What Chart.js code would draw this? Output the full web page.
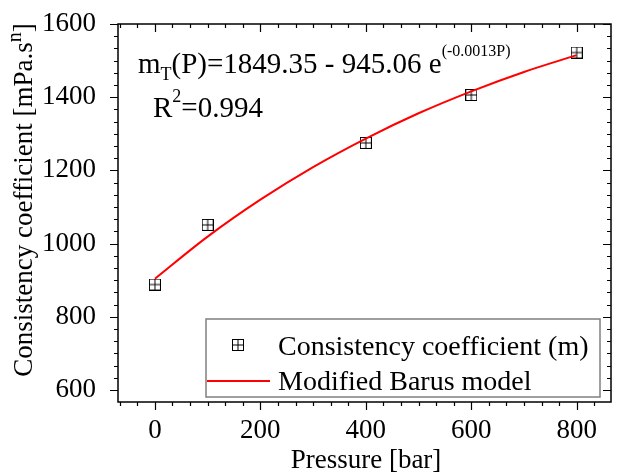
<!DOCTYPE html>
<html>
<head>
<meta charset="utf-8">
<script src="https://cdn.jsdelivr.net/npm/chart.js@4.4.1/dist/chart.umd.min.js"></script>
<style>
  body { margin: 0; background: #fff; }
  canvas { display: block; }
</style>
</head>
<body>
<canvas id="chart" width="618" height="473"></canvas>
<script>
// measured points
const pressure = [0, 100, 400, 600, 800];
const consistency = [888, 1051, 1275, 1406, 1522];

// fitted curve
const fitPressure = [0, 100, 200, 300, 400, 500, 600, 700, 800];
const fitValues = [904, 1019, 1120, 1209, 1287, 1356, 1416, 1469, 1515];

const xTicks = [0, 200, 400, 600, 800];
const yTicks = [600, 800, 1000, 1200, 1400, 1600];

const FONT = "'Liberation Serif', 'Times New Roman', serif";

// square with a cross, the Origin marker
function makeMarker() {
    const c = document.createElement('canvas');
    c.width = 12; c.height = 12;
    const g = c.getContext('2d');
    g.strokeStyle = '#000';
    g.lineWidth = 1;
    g.strokeRect(0.5, 0.5, 11, 11);
    g.beginPath();
    g.moveTo(6, 0.5); g.lineTo(6, 11.5);
    g.moveTo(0.5, 6); g.lineTo(11.5, 6);
    g.stroke();
    return c;
}
const marker = makeMarker();

const decorPlugin = {
    id: 'decor',
    afterDraw(chart) {
        const ctx = chart.ctx;
        const a = chart.chartArea;
        const xs = chart.scales.x, ys = chart.scales.y;
        ctx.save();

        // frame
        ctx.strokeStyle = '#000';
        ctx.lineWidth = 1.5;
        ctx.strokeRect(a.left, a.top, a.right - a.left, a.bottom - a.top);

        // ticks, 5 minor between majors
        ctx.lineWidth = 1.2;
        ctx.beginPath();
        for (let v = -200; v <= 1000; v += 200 / 6) {
            const px = Math.round(xs.getPixelForValue(v)) + 0.5;
            if (px < a.left + 1 || px > a.right - 1) continue;
            const major = Math.abs(v / 200 - Math.round(v / 200)) < 0.01;
            const len = major ? 8 : 4;
            ctx.moveTo(px, a.bottom); ctx.lineTo(px, a.bottom + len);
            ctx.moveTo(px, a.top); ctx.lineTo(px, a.top + len);
        }
        for (let v = 400; v <= 1800; v += 200 / 6) {
            const py = Math.round(ys.getPixelForValue(v)) + 0.5;
            if (py < a.top - 1 || py > a.bottom - 1) continue;
            const major = Math.abs(v / 200 - Math.round(v / 200)) < 0.01;
            const len = major ? 8 : 4;
            ctx.moveTo(a.left, py); ctx.lineTo(a.left - len, py);
            ctx.moveTo(a.right, py); ctx.lineTo(a.right - len, py);
        }
        ctx.stroke();

        ctx.fillStyle = '#000';
        ctx.textBaseline = 'alphabetic';

        // x title
        ctx.font = '27px ' + FONT;
        ctx.textAlign = 'center';
        ctx.fillText('Pressure [bar]', 366, 468);

        // y title with superscript n
        ctx.save();
        ctx.translate(32, 200);
        ctx.rotate(-Math.PI / 2);
        const main = 'Consistency coefficient [mPa.s';
        ctx.font = '27px ' + FONT;
        const wMain = ctx.measureText(main).width;
        ctx.font = '20px ' + FONT;
        const wSup = ctx.measureText('n').width;
        ctx.font = '27px ' + FONT;
        const wEnd = ctx.measureText(']').width;
        let sx = -(wMain + wSup + wEnd) / 2;
        ctx.textAlign = 'left';
        ctx.fillText(main, sx, 0);
        sx += wMain;
        ctx.font = '20px ' + FONT;
        ctx.fillText('n', sx, -11);
        sx += wSup;
        ctx.font = '27px ' + FONT;
        ctx.fillText(']', sx, 0);
        ctx.restore();

        // equation
        ctx.textAlign = 'left';
        let x = 138;
        const parts = [
            ['m', 29, 73],
            ['T', 18, 80],
            ['(P)=1849.35 - 945.06 e', 29, 73],
            ['(-0.0013P)', 16, 56]
        ];
        parts.forEach(([t, size, y]) => {
            ctx.font = size + 'px ' + FONT;
            ctx.fillText(t, x, y);
            x += ctx.measureText(t).width;
        });
        x = 153;
        [['R', 29, 117], ['2', 18, 102], ['=0.994', 29, 117]].forEach(([t, size, y]) => {
            ctx.font = size + 'px ' + FONT;
            ctx.fillText(t, x, y);
            x += ctx.measureText(t).width;
        });

        // legend
        ctx.strokeStyle = '#7f7f7f';
        ctx.lineWidth = 1.5;
        ctx.strokeRect(206, 319, 394, 78);
        ctx.drawImage(marker, 232, 339);
        ctx.strokeStyle = '#ff0000';
        ctx.lineWidth = 2;
        ctx.beginPath();
        ctx.moveTo(207, 381); ctx.lineTo(270, 381);
        ctx.stroke();
        ctx.font = '28px ' + FONT;
        ctx.fillText('Consistency coefficient (m)', 278, 355);
        ctx.fillText('Modified Barus model', 278, 390);

        ctx.restore();
    }
};

new Chart(document.getElementById('chart'), {
    type: 'scatter',
    data: {
        datasets: [
            {
                label: 'Modified Barus model',
                data: fitPressure.map((p, i) => ({ x: p, y: fitValues[i] })),
                showLine: true,
                borderColor: '#ff0000',
                borderWidth: 2,
                pointRadius: 0,
                cubicInterpolationMode: 'monotone',
                fill: false
            },
            {
                label: 'Consistency coefficient (m)',
                data: pressure.map((p, i) => ({ x: p, y: consistency[i] })),
                pointStyle: marker,
                pointRadius: 6,
                showLine: false
            }
        ]
    },
    options: {
        responsive: false,
        animation: false,
        layout: { padding: { top: 24, right: 1, left: 0, bottom: 0 } },
        plugins: { legend: { display: false }, tooltip: { enabled: false } },
        scales: {
            x: {
                type: 'linear',
                min: -70,
                max: 865,
                grid: { display: false },
                border: { display: false },
                afterBuildTicks: s => { s.ticks = xTicks.map(v => ({ value: v })); },
                afterFit: s => { s.height = 71; s.paddingLeft = 0; s.paddingRight = 0; },
                ticks: {
                    color: '#000',
                    padding: 5,
                    maxRotation: 0,
                    callback: v => String(v),
                    font: { family: FONT, size: 27 }
                }
            },
            y: {
                min: 567,
                max: 1600,
                grid: { display: false },
                border: { display: false },
                afterBuildTicks: s => { s.ticks = yTicks.map(v => ({ value: v })); },
                afterFit: s => { s.width = 118; s.paddingTop = 0; s.paddingBottom = 0; },
                ticks: {
                    color: '#000',
                    padding: 14,
                    callback: v => String(v),
                    font: { family: FONT, size: 27 }
                }
            }
        }
    },
    plugins: [decorPlugin]
});
</script>
</body>
</html>
